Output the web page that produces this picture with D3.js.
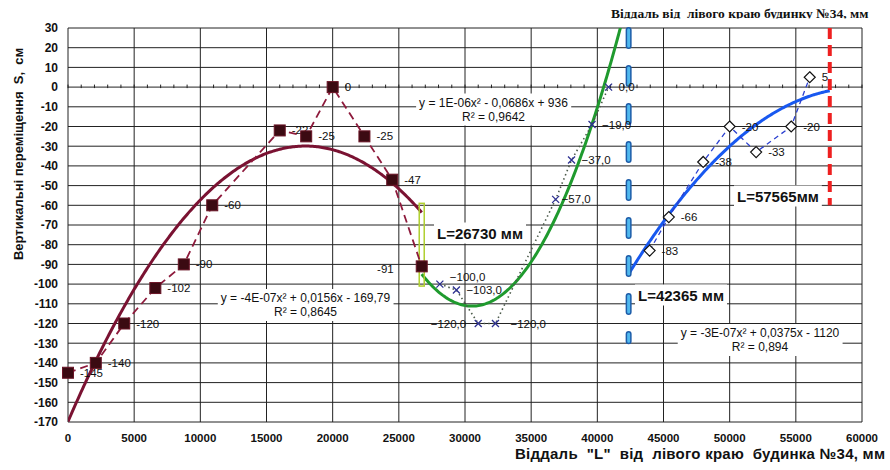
<!DOCTYPE html>
<html>
<head>
<meta charset="utf-8">
<script src="https://cdn.jsdelivr.net/npm/d3@7"></script>
<style>
  body { margin: 0; background: #fff; }
</style>
</head>
<body>
<div id="chart"></div>
<script>
// series
let s1X = [0, 2100, 4250, 6600, 8750, 10900, 16000, 18000, 20000, 22400, 24500, 26730]
let s1Y = [-145, -140, -120, -102, -90, -60, -22, -25, 0, -25, -47, -91]

let s2X = [28100, 29350, 31000, 32300, 36850, 38050, 39600, 40850]
let s2Y = [-100, -103, -120, -120, -57, -37, -19, 0]

let s3X = [43950, 45400, 48000, 50000, 52000, 54650, 56050]
let s3Y = [-83, -66, -38, -20, -33, -20, 5]

// trend lines (a, b, c) and x range
let trend1Coef = [-4.35e-7, 0.0156, -169.79]
let trend1Range = [0, 26730]
let trend2Coef = [1.1235e-6, -0.0686, 936]
let trend2Range = [26730, 42500]
let trend3Coef = [-3.14e-7, 0.0375, -1120]
let trend3Range = [42365, 57565]

let eq1 = ['y = -4E-07x² + 0,0156x - 169,79', 'R² = 0,8645']
let eq2 = ['y = 1E-06x² - 0,0686x + 936', 'R² = 0,9642']
let eq3 = ['y = -3E-07x² + 0,0375x - 1120', 'R² = 0,894']

let lengths = [26730, 42365, 57565]
let lengthLabels = ['L=26730 мм', 'L=42365 мм', 'L=57565мм']

let xTicks = d3.range(0, 60001, 5000)
let yTicks = d3.range(-170, 31, 10)

let sans = "Arial, 'Liberation Sans', sans-serif"
let serif = "'Liberation Serif', 'Times New Roman', serif"

let margin = { top: 28, left: 68, right: 28, bottom: 48 }
let width = 890 - margin.left - margin.right
let height = 470 - margin.top - margin.bottom

let svg = d3
  .select('#chart')
  .append('svg')
  .attr('width', 890)
  .attr('height', 470)
  .attr('font-family', sans)
  .style('background', '#fff')

let g = svg
  .append('g')
  .attr('transform', 'translate(' + margin.left + ',' + margin.top + ')')

let x = d3.scaleLinear().domain([0, 60000]).range([0, width])
let y = d3.scaleLinear().domain([-170, 30]).range([height, 0])

g.append('clipPath')
  .attr('id', 'plot-clip')
  .append('rect')
  .attr('width', width)
  .attr('height', height)

// grid
g.append('g')
  .selectAll('line')
  .data(yTicks)
  .enter()
  .append('line')
  .attr('x1', 0)
  .attr('x2', width)
  .attr('y1', d => y(d))
  .attr('y2', d => y(d))
  .attr('stroke', '#222')
  .attr('stroke-width', 1)

g.append('g')
  .selectAll('line')
  .data(xTicks)
  .enter()
  .append('line')
  .attr('x1', d => x(d))
  .attr('x2', d => x(d))
  .attr('y1', 0)
  .attr('y2', height)
  .attr('stroke', '#222')
  .attr('stroke-width', 1)

// small ticks on the zero line
g.append('g')
  .selectAll('line')
  .data(d3.range(0, 60001, 1000))
  .enter()
  .append('line')
  .attr('x1', d => x(d))
  .attr('x2', d => x(d))
  .attr('y1', y(0) - 2.5)
  .attr('y2', y(0) + 1)
  .attr('stroke', '#222')

// axis labels
g.append('g')
  .selectAll('text')
  .data(yTicks)
  .enter()
  .append('text')
  .attr('x', -10)
  .attr('y', d => y(d))
  .attr('dy', '0.36em')
  .attr('text-anchor', 'end')
  .attr('font-size', 12)
  .attr('font-weight', 'bold')
  .attr('fill', '#111')
  .text(d => d)

g.append('g')
  .selectAll('text')
  .data(xTicks)
  .enter()
  .append('text')
  .attr('x', d => x(d))
  .attr('y', height + 19.5)
  .attr('text-anchor', 'middle')
  .attr('font-size', 11.5)
  .attr('font-weight', 'bold')
  .attr('fill', '#111')
  .text(d => d)

svg
  .append('text')
  .attr('x', 885)
  .attr('y', 459)
  .attr('text-anchor', 'end')
  .attr('font-size', 15)
  .attr('font-weight', 'bold')
  .attr('fill', '#111')
  .attr('textLength', 370)
  .attr('lengthAdjust', 'spacing')
  .style('white-space', 'pre')
  .text('Віддаль  "L"  від  лівого краю  будинка №34, мм')

svg
  .append('text')
  .attr('transform', 'translate(18,154) rotate(-90)')
  .attr('dy', '0.36em')
  .attr('text-anchor', 'middle')
  .attr('font-size', 13)
  .attr('font-weight', 'bold')
  .attr('fill', '#111')
  .style('white-space', 'pre')
  .text('Вертикальні переміщення  S,  см')

// title at the top, cut at the bottom like in the scan
svg
  .append('clipPath')
  .attr('id', 'title-clip')
  .append('rect')
  .attr('width', 890)
  .attr('height', 18.6)

svg
  .append('text')
  .attr('clip-path', 'url(#title-clip)')
  .attr('x', 611)
  .attr('y', 18.3)
  .attr('font-family', serif)
  .attr('font-size', 13.5)
  .attr('font-weight', 'bold')
  .attr('fill', '#111')
  .style('white-space', 'pre')
  .text('Віддаль від  лівого краю будинку №34, мм')

// trend lines
function trendPoints(coef, range) {
  let xs = d3.range(range[0], range[1], 100).concat([range[1]])
  return xs.map(v => [v, coef[0] * v * v + coef[1] * v + coef[2]])
}

let trendLine = d3
  .line()
  .x(d => x(d[0]))
  .y(d => y(d[1]))

let plot = g.append('g').attr('clip-path', 'url(#plot-clip)')

plot
  .append('path')
  .attr('d', trendLine(trendPoints(trend1Coef, trend1Range)))
  .attr('fill', 'none')
  .attr('stroke', '#7a1232')
  .attr('stroke-width', 3)

plot
  .append('path')
  .attr('d', trendLine(trendPoints(trend2Coef, trend2Range)))
  .attr('fill', 'none')
  .attr('stroke', '#1f9a2e')
  .attr('stroke-width', 3)

plot
  .append('path')
  .attr('d', trendLine(trendPoints(trend3Coef, trend3Range)))
  .attr('fill', 'none')
  .attr('stroke', '#1858f0')
  .attr('stroke-width', 3)

// L markers
g.append('rect')
  .attr('x', x(lengths[0]) - 2.5)
  .attr('y', y(-59))
  .attr('width', 5)
  .attr('height', y(-101) - y(-59))
  .attr('fill', 'none')
  .attr('stroke', '#b0d030')
  .attr('stroke-width', 1.5)

g.append('line')
  .attr('x1', x(lengths[1]))
  .attr('x2', x(lengths[1]))
  .attr('y1', y(29))
  .attr('y2', y(-129))
  .attr('stroke', '#1d5ca8')
  .attr('stroke-width', 6)
  .attr('stroke-linecap', 'round')
  .attr('stroke-dasharray', '16,22')

g.append('line')
  .attr('x1', x(lengths[1]))
  .attr('x2', x(lengths[1]))
  .attr('y1', y(29))
  .attr('y2', y(-129))
  .attr('stroke', '#4fb8ee')
  .attr('stroke-width', 3)
  .attr('stroke-linecap', 'round')
  .attr('stroke-dasharray', '16,22')

g.append('line')
  .attr('x1', x(lengths[2]))
  .attr('x2', x(lengths[2]))
  .attr('y1', y(30))
  .attr('y2', y(-60))
  .attr('stroke', '#ee2020')
  .attr('stroke-width', 4)
  .attr('stroke-dasharray', '11,6')

// series lines
let s1 = s1X.map((v, i) => [v, s1Y[i]])
let s2 = s2X.map((v, i) => [v, s2Y[i]])
let s3 = s3X.map((v, i) => [v, s3Y[i]])

g.append('path')
  .attr('d', trendLine(s1))
  .attr('fill', 'none')
  .attr('stroke', '#8e1a3c')
  .attr('stroke-width', 1.8)
  .attr('stroke-dasharray', '8,5')

g.append('path')
  .attr('d', trendLine(s2))
  .attr('fill', 'none')
  .attr('stroke', '#4b5a4a')
  .attr('stroke-width', 1.6)
  .attr('stroke-dasharray', '1.5,3')

g.append('path')
  .attr('d', trendLine(s3))
  .attr('fill', 'none')
  .attr('stroke', '#2a3fd0')
  .attr('stroke-width', 1.3)
  .attr('stroke-dasharray', '5,4')

// data labels
function labelGroup(data, fmt, dxFn, anchorFn, dyFn) {
  g.append('g')
    .selectAll('text')
    .data(data)
    .enter()
    .append('text')
    .attr('x', d => x(d[0]))
    .attr('y', d => y(d[1]))
    .attr('dx', (d, i) => dxFn(i))
    .attr('dy', (d, i) => dyFn(i))
    .attr('text-anchor', (d, i) => anchorFn(i))
    .attr('font-size', 11.5)
    .attr('fill', '#111')
    .text(d => fmt(d[1]))
}

labelGroup(
  s1,
  d => d,
  i => (i === 11 ? -28 : 12),
  i => (i === 11 ? 'end' : 'start'),
  i => (i === 11 ? 7 : 4)
)

// series 1 squares (drawn over their labels)
g.append('g')
  .selectAll('rect')
  .data(s1)
  .enter()
  .append('rect')
  .attr('x', d => x(d[0]) - 5.5)
  .attr('y', d => y(d[1]) - 5.5)
  .attr('width', 11)
  .attr('height', 11)
  .attr('fill', '#3b0a12')
  .attr('stroke', '#6a1426')
  .attr('stroke-width', 1)

// series 2 crosses
let crossSize = 3.5
g.append('g')
  .selectAll('path')
  .data(s2)
  .enter()
  .append('path')
  .attr('d', d => {
    let cx = x(d[0])
    let cy = y(d[1])
    return 'M' + (cx - crossSize) + ',' + (cy - crossSize) + 'L' + (cx + crossSize) + ',' + (cy + crossSize) +
      'M' + (cx - crossSize) + ',' + (cy + crossSize) + 'L' + (cx + crossSize) + ',' + (cy - crossSize)
  })
  .attr('stroke', '#2e3192')
  .attr('stroke-width', 1.3)

let commaFmt = v => d3.format('.1f')(v).replace('.', ',')
labelGroup(
  s2,
  commaFmt,
  i => (i === 2 ? -12 : i === 4 ? 6 : i === 3 ? 15 : 10),
  i => (i === 2 ? 'end' : 'start'),
  i => (i === 0 ? -3 : 4)
)

// series 3 diamonds
g.append('g')
  .selectAll('path')
  .data(s3)
  .enter()
  .append('path')
  .attr('d', d => {
    let cx = x(d[0])
    let cy = y(d[1])
    return 'M' + cx + ',' + (cy - 5.5) + 'L' + (cx + 5.5) + ',' + cy + 'L' + cx + ',' + (cy + 5.5) + 'L' + (cx - 5.5) + ',' + cy + 'Z'
  })
  .attr('fill', '#fff')
  .attr('stroke', '#111')
  .attr('stroke-width', 1.2)

labelGroup(
  s3,
  d => d,
  i => 12,
  i => 'start',
  i => 4
)

// boxed texts with white background
function boxedText(lines, cx, cy, size, weight, anchor) {
  let box = svg.append('g')
  let bg = box.append('rect').attr('fill', '#fff')
  let t = box
    .append('text')
    .attr('font-size', size)
    .attr('font-weight', weight)
    .attr('fill', '#111')
    .attr('text-anchor', anchor)
  lines.forEach((line, i) => {
    t.append('tspan')
      .attr('x', cx)
      .attr('y', cy + i * 14)
      .text(line)
  })
  let bb = t.node().getBBox()
  bg.attr('x', bb.x - 3)
    .attr('y', bb.y - 2)
    .attr('width', bb.width + 6)
    .attr('height', bb.height + 4)
}

boxedText(eq1, 305.5, 302, 12, 'normal', 'middle')
boxedText(eq2, 493.5, 106.5, 12, 'normal', 'middle')
boxedText(eq3, 760, 337, 12, 'normal', 'middle')

boxedText([lengthLabels[0]], 437, 238.5, 15, 'bold', 'start')
boxedText([lengthLabels[1]], 638, 300.5, 15, 'bold', 'start')
boxedText([lengthLabels[2]], 737, 201.5, 15, 'bold', 'start')
</script>
</body>
</html>
